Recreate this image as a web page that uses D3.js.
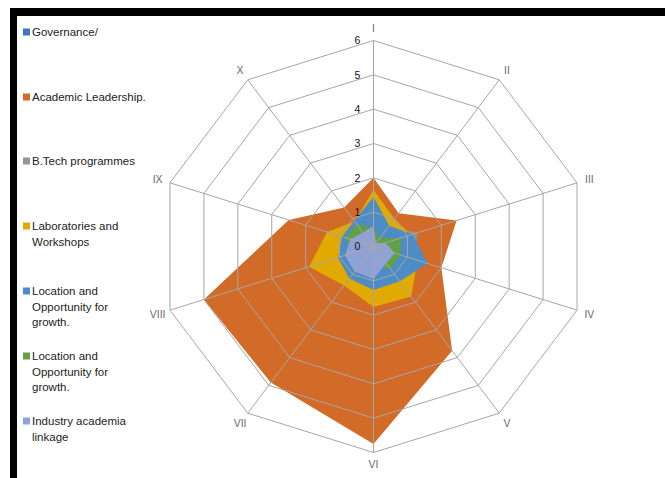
<!DOCTYPE html>
<html>
<head>
<meta charset="utf-8">
<script src="https://cdn.jsdelivr.net/npm/d3@7"></script>
<style>
  body { margin: 0; background: #fff; }
  svg { display: block; font-family: "Liberation Sans", Arial, sans-serif; }
</style>
</head>
<body>
<svg id="chart" width="665" height="478"></svg>
<script>
// axes of the radar and the ring values
var axes = ["I", "II", "III", "IV", "V", "VI", "VII", "VIII", "IX", "X"];
var levels = [0, 1, 2, 3, 4, 5, 6];

// series values, one per axis (I..X)
var governance   = [1.5, 1.0, 1.8, 1.6, 2.2, 2.8, 2.4, 2.6, 1.6, 1.0];
var academic     = [2.0, 1.2, 2.45, 2.0, 3.75, 5.75, 4.9, 5.0, 2.5, 1.4];
var btech        = [1.2, 0.7, 1.3, 1.2, 1.1, 1.2, 1.0, 0.9, 0.8, 0.7];
var labs         = [1.65, 1.0, 1.1, 1.3, 1.8, 1.76, 1.4, 1.9, 1.37, 0.9];
var location1    = [1.45, 0.75, 1.15, 1.6, 1.25, 1.27, 1.15, 1.05, 0.93, 0.92];
var location2    = [0.55, 0.3, 0.8, 0.8, 0.8, 0.6, 0.5, 0.6, 0.82, 0.8];
var industry     = [0.6, 0.12, 0.35, 0.63, 0.6, 0.95, 0.9, 0.84, 0.68, 0.5];

var seriesNames = [
  ["Governance/"],
  ["Academic Leadership."],
  ["B.Tech programmes"],
  ["Laboratories and", "Workshops"],
  ["Location and", "Opportunity for", "growth."],
  ["Location and", "Opportunity for", "growth."],
  ["Industry academia", "linkage"]
];
var seriesValues = [governance, academic, btech, labs, location1, location2, industry];
var colors = ["#4472C4", "#D36B28", "#959595", "#E1AA00", "#4E8CC5", "#62A044", "#8FA2D8"];

var svg = d3.select("#chart");

// frame bars (top and left)
svg.append("rect").attr("x", 10).attr("y", 8).attr("width", 655).attr("height", 8).attr("fill", "#000");
svg.append("rect").attr("x", 10).attr("y", 8).attr("width", 7).attr("height", 470).attr("fill", "#000");

var cx = 373.5, cy = 246.5, rx = 214, ry = 206;
var r = d3.scaleLinear().domain([0, 6]).range([0, 1]);
var angle = d3.scaleLinear().domain([0, axes.length]).range([0, 2 * Math.PI]);

function px(i, v) { return cx + Math.sin(angle(i)) * rx * r(v); }
function py(i, v) { return cy - Math.cos(angle(i)) * ry * r(v); }

var radarLine = d3.line()
  .x(function(d, i) { return px(i, d); })
  .y(function(d, i) { return py(i, d); })
  .curve(d3.curveLinearClosed);

// filled series, first one at the bottom
svg.append("g").selectAll("path")
  .data(seriesValues)
  .join("path")
  .attr("d", function(d) { return radarLine(d); })
  .attr("fill", function(d, i) { return colors[i]; })
  .attr("stroke", "none");

// rings
var grid = svg.append("g").attr("fill", "none").attr("stroke", "#A6A6A6").attr("stroke-width", 1);
grid.selectAll(".ring")
  .data(levels.filter(function(l) { return l > 0; }))
  .join("path")
  .attr("class", "ring")
  .attr("d", function(l) { return radarLine(axes.map(function() { return l; })); });

// spokes
grid.selectAll(".spoke")
  .data(axes)
  .join("line")
  .attr("class", "spoke")
  .attr("x1", cx).attr("y1", cy)
  .attr("x2", function(d, i) { return px(i, 6); })
  .attr("y2", function(d, i) { return py(i, 6); });

// level labels
svg.append("g").selectAll("text")
  .data(levels)
  .join("text")
  .attr("x", cx - 16)
  .attr("y", function(l) { return py(0, l); })
  .attr("dy", "0.35em")
  .attr("text-anchor", "middle")
  .attr("font-size", 10.5)
  .attr("fill", "#111")
  .text(function(l) { return l; });

// axis labels
svg.append("g").selectAll("text")
  .data(axes)
  .join("text")
  .attr("x", function(d, i) { return px(i, 6) + Math.sin(angle(i)) * 13; })
  .attr("y", function(d, i) { return py(i, 6) - Math.cos(angle(i)) * 12; })
  .attr("dy", "0.35em")
  .attr("text-anchor", "middle")
  .attr("font-size", 10.5)
  .attr("fill", "#6a6a6a")
  .text(function(d) { return d; });

// legend
var legendY = [32, 97, 161, 226, 291, 356, 421];
var lineH = 15.5;
var legend = svg.append("g");
seriesNames.forEach(function(lines, i) {
  legend.append("rect")
    .attr("x", 23).attr("y", legendY[i] - 3.5)
    .attr("width", 7).attr("height", 7)
    .attr("fill", colors[i]);
  lines.forEach(function(t, j) {
    legend.append("text")
      .attr("x", 32)
      .attr("y", legendY[i] + j * lineH)
      .attr("dy", "0.35em")
      .attr("font-size", 11.5)
      .attr("fill", "#222")
      .text(t);
  });
});
</script>
</body>
</html>
